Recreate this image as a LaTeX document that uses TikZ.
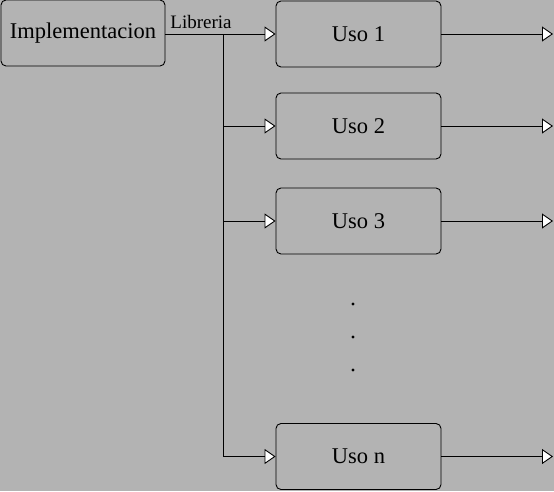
\documentclass[tikz,border=0pt]{standalone}
\usepackage{fontspec}
\setmainfont{Liberation Serif}
\usetikzlibrary{arrows.meta}
\definecolor{bg}{RGB}{179,179,179}
\begin{document}
\begin{tikzpicture}[x=1pt,y=-1pt,
  box/.style={draw=black, line width=0.9pt, rounded corners=5pt, fill=bg, inner sep=0pt},
  usobox/.style={box, minimum width=165pt, minimum height=66pt, font=\fontsize{22.5}{24}\selectfont},
  conn/.style={draw=black, line width=0.9pt, -{Triangle[open, fill=white, length=11pt, width=15pt]}},
  plain/.style={draw=black, line width=0.9pt},
  dot/.style={circle, fill=black, inner sep=0pt, minimum size=3.2pt}]
\fill[bg] (0,0) rectangle (554,491);
\useasboundingbox (0,0) rectangle (554,491);
\node[box, minimum width=164pt, minimum height=66pt, font=\fontsize{22.5}{24}\selectfont] (impl) at (83,33) {Implementacion};
\node[usobox] (u1) at (358.5,34) {Uso 1};
\node[usobox] (u2) at (358.5,126) {Uso 2};
\node[usobox] (u3) at (358.5,221) {Uso 3};
\node[usobox] (un) at (358.5,456.5) {Uso n};
\coordinate (j) at (223,34);
\coordinate (jb) at (223,456.5);
\coordinate (e1) at (553,34);
\coordinate (e2) at (553,126);
\coordinate (e3) at (553,221);
\coordinate (en) at (553,456.5);
\draw[conn] (impl.east |- j) -- (u1.west);
\node[font=\fontsize{19}{20}\selectfont, inner sep=0pt, anchor=base] (lib) at (201,28) {Libreria};
\draw[plain] (j) -- (jb);
\draw[conn] (j |- u2.west) -- (u2.west);
\draw[conn] (j |- u3.west) -- (u3.west);
\draw[conn] (jb) -- (un.west);
\draw[conn] (u1.east) -- (e1);
\draw[conn] (u2.east) -- (e2);
\draw[conn] (u3.east) -- (e3);
\draw[conn] (un.east) -- (en);
\node[dot] (d1) at (353,304) {};
\node[dot] (d2) at (353,337) {};
\node[dot] (d3) at (353,370) {};
\end{tikzpicture}
\end{document}
